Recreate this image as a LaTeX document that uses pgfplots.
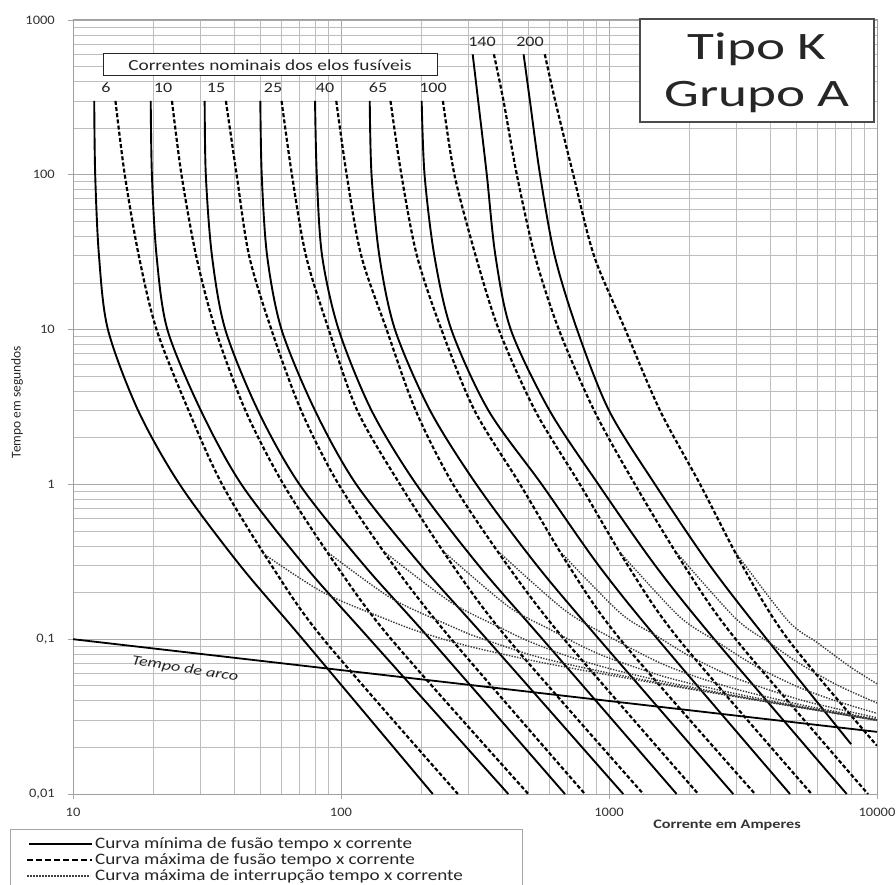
\documentclass[border=0pt]{standalone}
\usepackage{fontspec}
\setmainfont{Carlito}
\usepackage{pgfplots}
\pgfplotsset{compat=1.18}
\newcommand\W[2][1.2]{\scalebox{#1}[1]{#2}}
\tikzset{
  mn/.style={black, line width=1.9bp, solid},
  mx/.style={black, line width=2.2bp, dash pattern=on 4bp off 2.2bp},
  ic/.style={black!78, line width=1.4bp, dash pattern=on 1.4bp off 1.4bp},
}
\begin{document}
\begin{tikzpicture}[x=1bp,y=1bp]
\useasboundingbox (0,0) rectangle (896,885);
\begin{axis}[
  at={(73bp,91bp)}, anchor=south west, scale only axis,
  width=804bp, height=774bp,
  xmode=log, ymode=log, xmin=10, xmax=10000, ymin=0.01, ymax=1000,
  xtick={10,100,1000,10000},
  xticklabels={\W[1.12]{10},\W[1.12]{100},\W[1.12]{1000},\W[1.12]{10000}},
  ytick={0.01,0.1,1,10,100,1000},
  yticklabels={\W[1.12]{0,01},\W[1.12]{0,1},\W[1.12]{1},\W[1.12]{10},\W[1.12]{100},\W[1.12]{1000}},
  minor xtick={20,30,40,50,60,70,80,90,200,300,400,500,600,700,800,900,2000,3000,4000,5000,6000,7000,8000,9000},
  minor ytick={0.02,0.03,0.04,0.05,0.06,0.07,0.08,0.09,0.2,0.3,0.4,0.5,0.6,0.7,0.8,0.9,2,3,4,5,6,7,8,9,20,30,40,50,60,70,80,90,200,300,400,500,600,700,800,900},
  grid=both,
  major grid style={draw=gray!68, line width=0.95bp},
  minor grid style={draw=gray!52, line width=0.85bp},
  axis line style={draw=gray!75, line width=1bp},
  tick align=outside, major tick length=5bp, minor tick length=0pt,
  xtick pos=left, ytick pos=left,
  tick style={draw=gray!70, line width=0.9bp},
  ticklabel style={font=\fontsize{13}{13}\selectfont, text=black!80},
  xticklabel style={anchor=north, inner sep=0pt, yshift=-9bp},
  yticklabel style={anchor=east, inner sep=0pt, xshift=-13bp},
  every axis plot/.append style={smooth},
]
% ---- minimum melting (solid)
\addplot[mn] coordinates {(12.0,300)(12.1,100)(12.5,30)(13.5,10)(17.5,3)(25,1)(42,0.3)(72,0.1)(220,0.01)};
\addplot[mn] coordinates {(19.5,300)(19.7,100)(20.5,30)(22.5,10)(30,3)(42.5,1)(73,0.3)(128,0.1)(421,0.01)};
\addplot[mn] coordinates {(31,300)(31.3,100)(33,30)(37,10)(49,3)(70,1)(122,0.3)(215,0.1)(685,0.01)};
\addplot[mn] coordinates {(50,300)(50.6,100)(53,30)(60,10)(80,3)(114,1)(199,0.3)(350,0.1)(1130,0.01)};
\addplot[mn] coordinates {(80,300)(81.2,100)(85,30)(98,10)(130,3)(191,1)(326,0.3)(565,0.1)(1788,0.01)};
\addplot[mn] coordinates {(128,300)(130,100)(139,30)(159,10)(215,3)(320,1)(538,0.3)(918,0.1)(2908,0.01)};
\addplot[mn] coordinates {(200,300)(205,100)(223,30)(258,10)(355,3)(561,1)(914,0.3)(1520,0.1)(4734,0.01)};
\addplot[mn] coordinates {(310,600)(325,300)(350,100)(377,30)(430,10)(600,3)(913,1)(1486,0.3)(2470,0.1)(7710,0.01)};
\addplot[mn] coordinates {(480,600)(507,300)(553,100)(627,30)(760,10)(1000,3)(1485,1)(2377,0.3)(3880,0.1)(8000,0.021)};
% ---- maximum melting (dashed)
\addplot[mx] coordinates {(14.4,300)(15.6,100)(17.6,30)(20.5,10)(27,3)(36,1)(55,0.3)(86,0.1)(273,0.01)};
\addplot[mx] coordinates {(23.4,300)(25.4,100)(28.8,30)(34,10)(44,3)(61,1)(96,0.3)(154,0.1)(500,0.01)};
\addplot[mx] coordinates {(37.2,300)(40.8,100)(45.4,30)(55,10)(71,3)(98,1)(157,0.3)(258,0.1)(813,0.01)};
\addplot[mx] coordinates {(60,300)(65.6,100)(74,30)(90,10)(115,3)(166,1)(261,0.3)(420,0.1)(1343,0.01)};
\addplot[mx] coordinates {(96,300)(105,100)(119,30)(148,10)(190,3)(262,1)(418,0.3)(680,0.1)(2153,0.01)};
\addplot[mx] coordinates {(153,300)(168,100)(192,30)(237,10)(315,3)(466,1)(706,0.3)(1100,0.1)(3507,0.01)};
\addplot[mx] coordinates {(240,300)(265,100)(318,30)(388,10)(530,3)(779,1)(1175,0.3)(1820,0.1)(5703,0.01)};
\addplot[mx] coordinates {(372,600)(404,300)(453,100)(529,30)(650,10)(880,3)(1250,1)(1905,0.3)(2970,0.1)(9254,0.01)};
\addplot[mx] coordinates {(576,600)(630,300)(736,100)(879,30)(1150,10)(1550,3)(2188,1)(3141,0.3)(4650,0.1)(10000,0.0205)};
% ---- maximum interrupting (dotted)
\addplot[ic] coordinates {(51,0.36)(86,0.200)(150,0.133)(200,0.1105)(300,0.090)(500,0.0737)(700,0.0657)(1000,0.0587)(1500,0.0519)(2000,0.0477)(3000,0.0424)(5000,0.0365)(7000,0.0332)(10000,0.0299)};
\addplot[ic] coordinates {(90,0.36)(154,0.184)(250,0.124)(300,0.108)(500,0.080)(700,0.069)(1000,0.0604)(1500,0.0527)(2000,0.0481)(3000,0.0426)(5000,0.0366)(7000,0.0332)(10000,0.0299)};
\addplot[ic] coordinates {(147,0.36)(258,0.1727)(400,0.117)(500,0.0973)(700,0.0778)(1000,0.0647)(1500,0.0546)(2000,0.0492)(3000,0.043)(5000,0.0368)(7000,0.0333)(10000,0.0300)};
\addplot[ic] coordinates {(245,0.36)(420,0.1632)(600,0.116)(800,0.0894)(1000,0.0756)(1500,0.0594)(2000,0.0519)(3000,0.0443)(5000,0.0372)(7000,0.0336)(10000,0.0301)};
\addplot[ic] coordinates {(392,0.36)(680,0.155)(1000,0.104)(1500,0.0722)(2000,0.0591)(3000,0.0474)(5000,0.0383)(7000,0.0341)(10000,0.0304)};
\addplot[ic] coordinates {(665,0.36)(1100,0.148)(1500,0.1054)(2000,0.0778)(3000,0.0557)(5000,0.0413)(7000,0.0357)(10000,0.0311)};
\addplot[ic] coordinates {(1105,0.36)(1820,0.1415)(2500,0.0976)(3500,0.0675)(5000,0.0497)(7000,0.040)(10000,0.0332)};
\addplot[ic] coordinates {(1795,0.36)(2970,0.136)(4000,0.0941)(5000,0.0718)(7000,0.0512)(10000,0.0387)};
\addplot[ic] coordinates {(2980,0.36)(4650,0.1317)(6000,0.0948)(8000,0.0657)(10000,0.0515)};
% ---- arc time
\addplot[black, line width=1.8bp, sharp plot] coordinates {(10,0.1)(10000,0.0252)};
\end{axis}
% boxes and labels
\draw[black!85, line width=1bp, fill=white] (103,809) rectangle (437,831);
\node[inner sep=0, font=\fontsize{15.5}{15.5}\selectfont, text=black!85] at (270,820) {\W[1.25]{Correntes nominais dos elos fusíveis}};
\foreach \xx/\lab in {106/6,163/10,216/15,273/25,325/40,378/65,433/100}
  \node[anchor=base, inner sep=0, font=\fontsize{14.5}{14.5}\selectfont, text=black!85] at (\xx,792) {\W[1.25]{\lab}};
\foreach \xx/\lab in {482/140,530/200}
  \node[anchor=base, inner sep=0, font=\fontsize{14.5}{14.5}\selectfont, text=black!85] at (\xx,838.5) {\W[1.25]{\lab}};
\draw[gray!60!black, line width=1.5bp, fill=white] (640,763) rectangle (874,866);
\node[anchor=base, inner sep=0, font=\fontsize{39}{39}\selectfont, text=black!85] at (757,825) {\W[1.42]{Tipo K}};
\node[anchor=base, inner sep=0, font=\fontsize{39}{39}\selectfont, text=black!85] at (757,778) {\W[1.42]{Grupo A}};
\node[rotate=90, inner sep=0, font=\fontsize{13.5}{13.5}\selectfont, text=black!85] at (17,483) {Tempo em segundos};
\node[inner sep=0, font=\bfseries\fontsize{13}{13}\selectfont, text=black!80] at (727,60) {\W[1.25]{Corrente em Amperes}};
\node[rotate=-9, inner sep=0, font=\itshape\fontsize{14}{14}\selectfont, text=black!85] at (185,216) {\W[1.3]{Tempo de arco}};
% legend
\draw[gray!70, line width=1bp] (10,-5) rectangle (522,55);
\draw[black, line width=2bp] (29,41) -- (92,41);
\draw[black, line width=2.2bp, dash pattern=on 6bp off 3bp] (27,25) -- (92,25);
\draw[black!75, line width=1.4bp, dash pattern=on 1.5bp off 1.5bp] (27,9) -- (90,9);
\node[anchor=west, inner sep=0, font=\fontsize{16}{16}\selectfont, text=black!85] at (95,41) {\W{Curva mínima de fusão tempo x corrente}};
\node[anchor=west, inner sep=0, font=\fontsize{16}{16}\selectfont, text=black!85] at (95,25) {\W{Curva máxima de fusão tempo x corrente}};
\node[anchor=west, inner sep=0, font=\fontsize{16}{16}\selectfont, text=black!85] at (95,9) {\W{Curva máxima de interrupção tempo x corrente}};
\end{tikzpicture}
\end{document}
